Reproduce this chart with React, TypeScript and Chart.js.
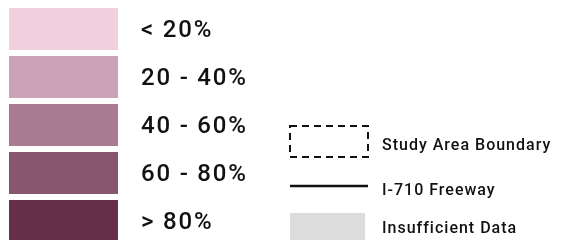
import React, { useEffect, useRef } from "react";
import { Chart, registerables } from "chart.js";

Chart.register(...registerables);

const categories = ["< 20%", "20 - 40%", "40 - 60%", "60 - 80%", "> 80%"];
const shareColors = ["#f1cfdf", "#cba2b6", "#a97b91", "#88566f", "#66304a"];
const barSpan: [number, number] = [0, 1];

const extraLabels = ["Study Area Boundary", "I-710 Freeway", "Insufficient Data"];
const extraKinds = ["dashed", "line", "fill"];

const textPlugin = {
  id: "legendText",
  afterDatasetsDraw(chart: any) {
    const ctx = chart.ctx as CanvasRenderingContext2D;
    const y = chart.scales.y;
    ctx.save();
    ctx.fillStyle = "#111";
    ctx.font = "500 24px Roboto";
    (ctx as any).letterSpacing = "1.8px";
    ctx.textBaseline = "alphabetic";
    categories.forEach((c, i) => {
      const cy = y.getPixelForValue(i);
      ctx.fillText(c, 141, cy + 7.5);
    });
    const rows = [
      { sym: [290, 126, 78, 31], base: 149.5 },
      { sym: [290, 186, 78, 0], base: 195 },
      { sym: [290, 213, 75, 30], base: 233 },
    ];
    ctx.font = "500 16px Roboto";
    (ctx as any).letterSpacing = "1px";
    extraLabels.forEach((lab, i) => {
      const r = rows[i];
      const [sx, sy, sw, sh] = r.sym;
      const kind = extraKinds[i];
      if (kind === "dashed") {
        ctx.strokeStyle = "#111";
        ctx.lineWidth = 2;
        ctx.setLineDash([7, 5]);
        ctx.strokeRect(sx, sy, sw, sh);
        ctx.setLineDash([]);
      } else if (kind === "line") {
        ctx.strokeStyle = "#111";
        ctx.lineWidth = 2.5;
        ctx.beginPath();
        ctx.moveTo(sx, sy);
        ctx.lineTo(sx + sw, sy);
        ctx.stroke();
      } else {
        ctx.fillStyle = "#dcdcdc";
        ctx.fillRect(sx, sy, sw, sh);
      }
      ctx.fillStyle = "#111";
      ctx.fillText(lab, 382, r.base);
    });
    ctx.restore();
  },
};

export default function App() {
  const ref = useRef<HTMLCanvasElement>(null);
  useEffect(() => {
    document.body.style.margin = "0";
    document.body.style.background = "#fff";
    const chart = new Chart(ref.current!, {
      type: "bar",
      data: {
        labels: categories,
        datasets: [
          {
            data: categories.map(() => barSpan),
            backgroundColor: shareColors,
            borderWidth: 0,
            barPercentage: 1,
            categoryPercentage: 0.875,
          },
        ],
      },
      options: {
        indexAxis: "y",
        animation: false,
        responsive: false,
        layout: { padding: { top: 5, bottom: 0, left: 0, right: 0 } },
        plugins: { legend: { display: false }, tooltip: { enabled: false } },
        scales: {
          x: { type: "linear", display: false, min: -9 / 109, max: 560 / 109 },
          y: { type: "category", display: false },
        },
      },
      plugins: [textPlugin],
    });
    return () => chart.destroy();
  }, []);
  return (
    <div style={{ width: 569, height: 240, overflow: "hidden", background: "#fff" }}>
      <canvas ref={ref} width={569} height={245} style={{ width: 569, height: 245, display: "block" }} />
    </div>
  );
}
